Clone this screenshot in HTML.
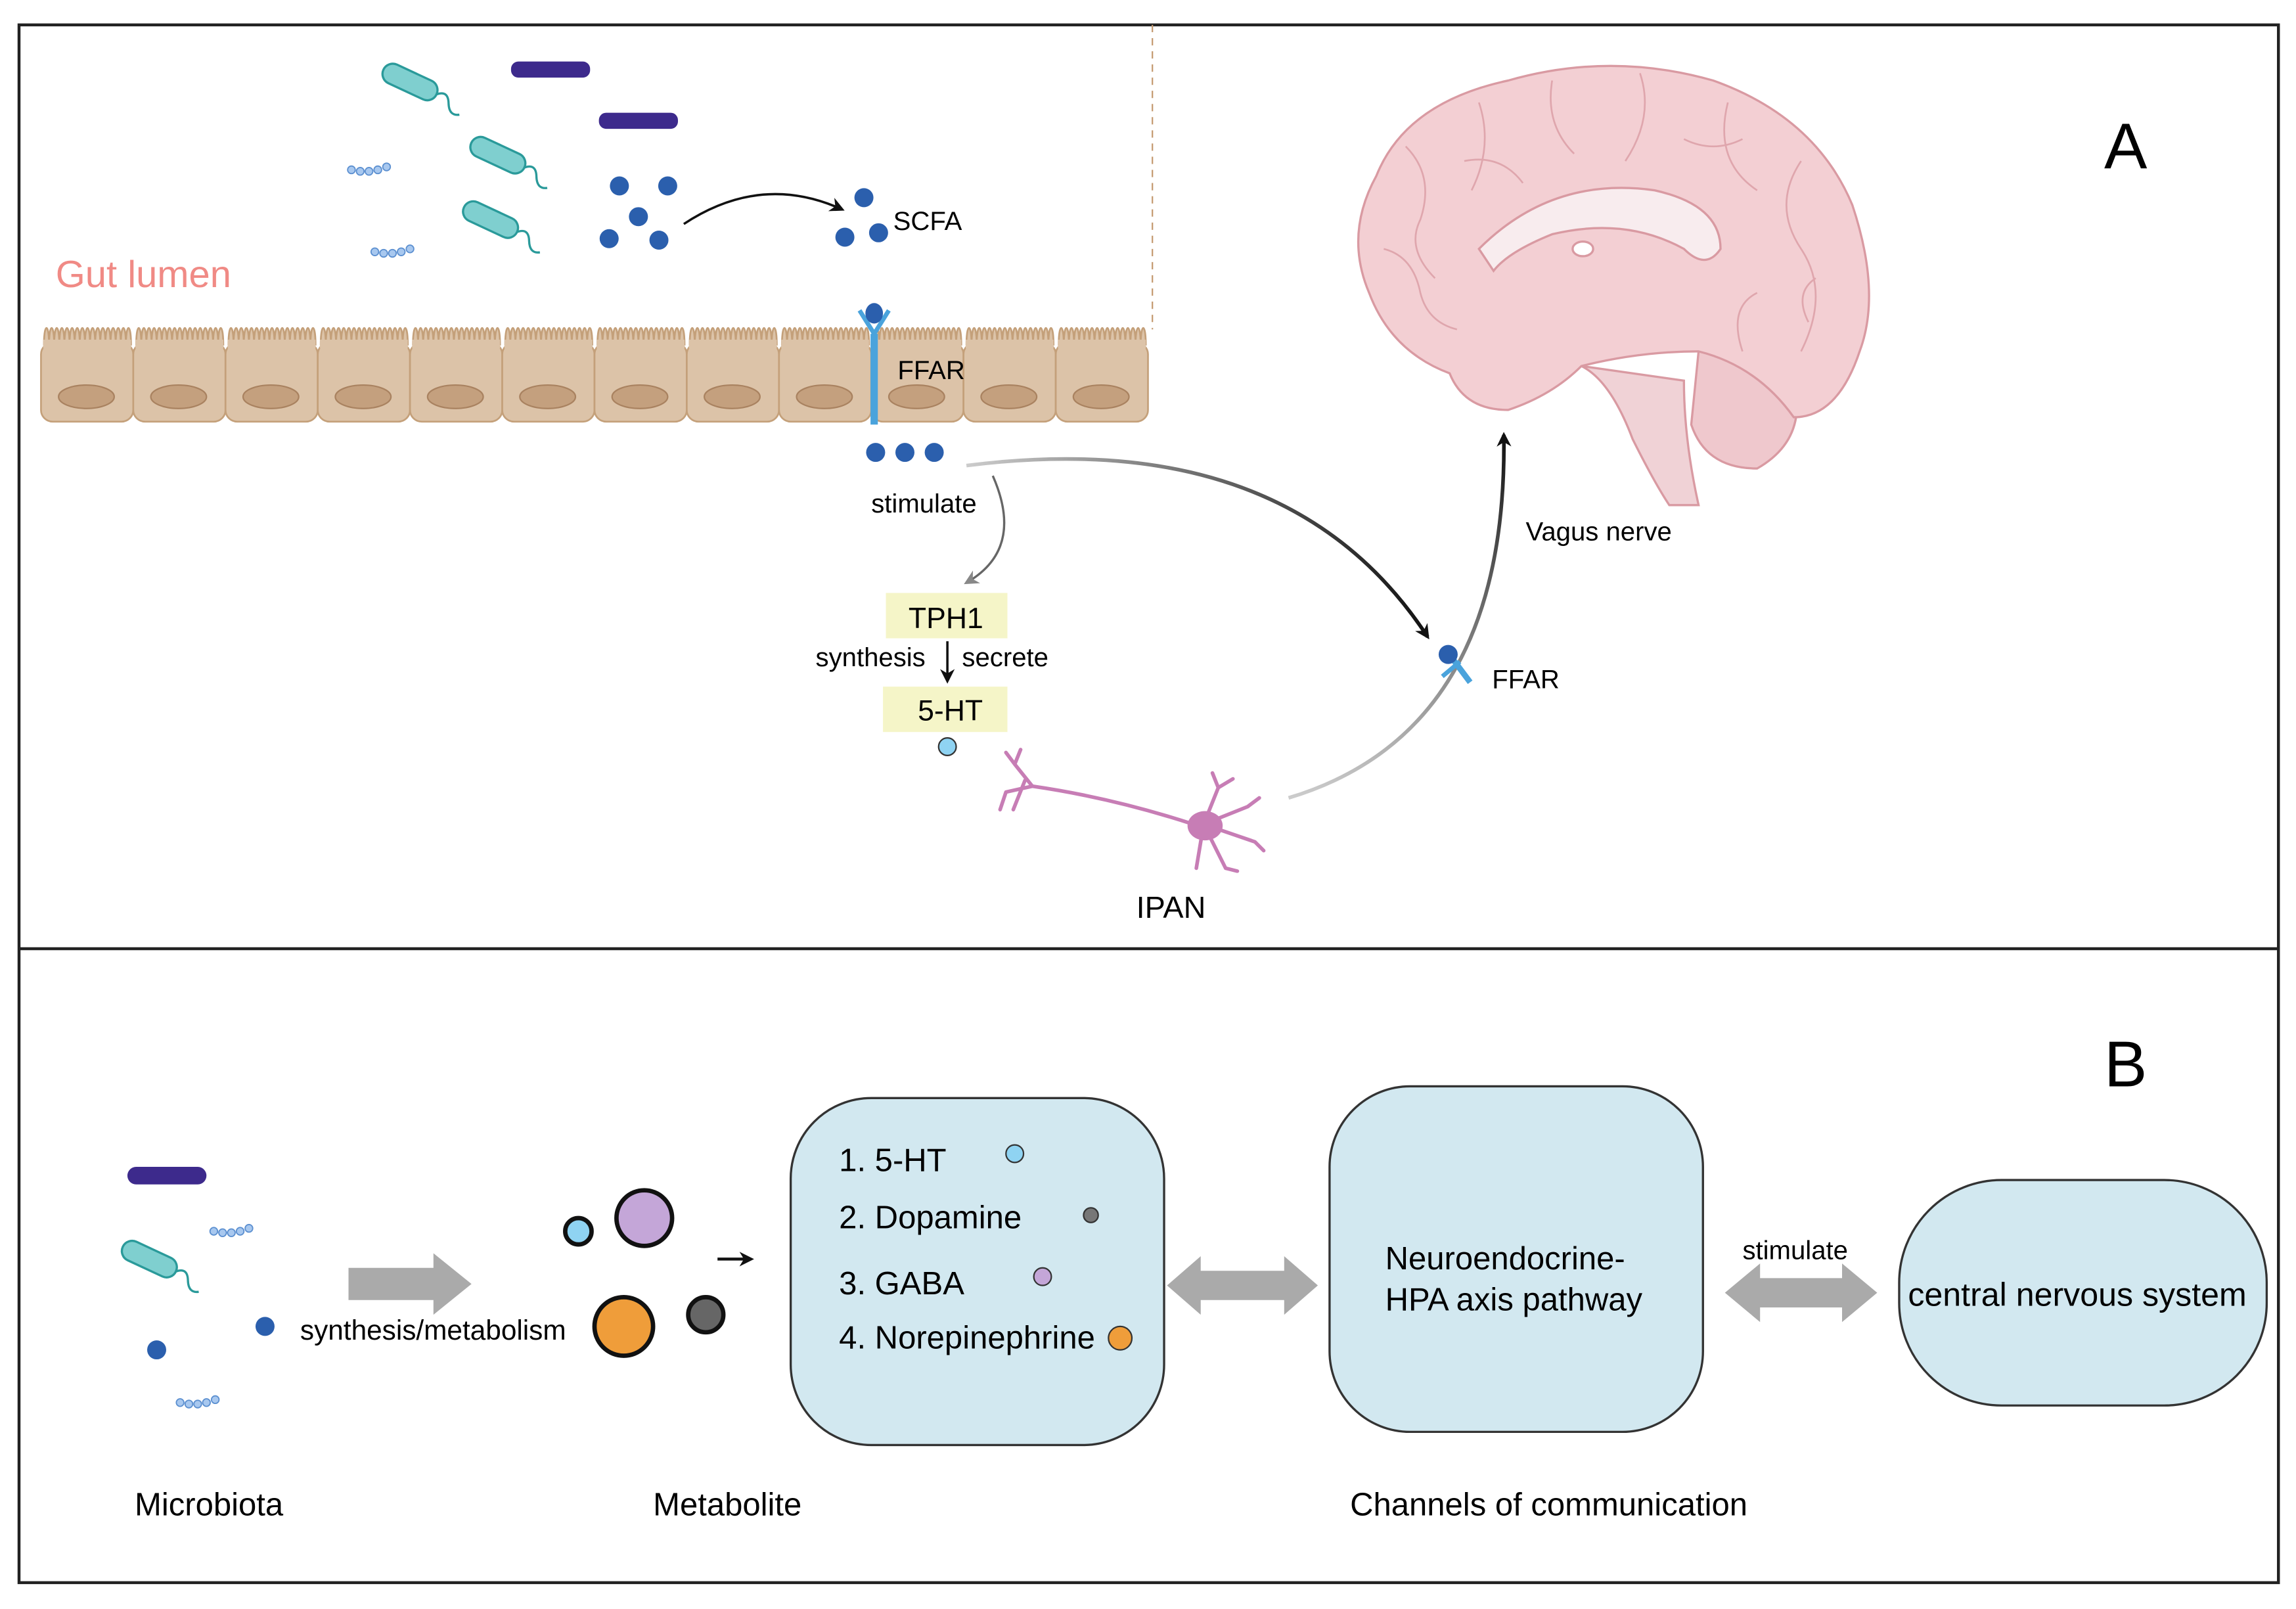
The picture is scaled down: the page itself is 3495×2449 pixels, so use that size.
<!DOCTYPE html>
<html><head><meta charset="utf-8"><style>
html,body{margin:0;padding:0;background:#fff}
svg{display:block}
text{font-family:"Liberation Sans",sans-serif}
</style></head><body>
<svg width="3495" height="2449" viewBox="0 0 1568 1099" preserveAspectRatio="none" xmlns="http://www.w3.org/2000/svg">
<defs>
<marker id="ah" markerWidth="10" markerHeight="10" refX="8" refY="5" orient="auto" markerUnits="userSpaceOnUse"><path d="M0,0 L10,5 L0,10 L3,5z" fill="#111"/></marker>
<marker id="ahg" markerWidth="10" markerHeight="10" refX="8" refY="5" orient="auto" markerUnits="userSpaceOnUse"><path d="M0,0 L10,5 L0,10 L3,5z" fill="#888"/></marker>
<linearGradient id="g1" x1="0" y1="0" x2="1" y2="0"><stop offset="0" stop-color="#ccc"/><stop offset="1" stop-color="#111"/></linearGradient>
<linearGradient id="g2" x1="0" y1="1" x2="0" y2="0"><stop offset="0" stop-color="#ccc"/><stop offset="1" stop-color="#111"/></linearGradient>
<g id="bac"><rect x="-20" y="-7" width="40" height="14" rx="7" fill="#7fcfcf" stroke="#2a9a9a" stroke-width="1.5"/><path d="M20,0 q6,-6 10,2 t10,4" fill="none" stroke="#2a9a9a" stroke-width="1.5"/></g>
<g id="chain" fill="#a8c8ef" stroke="#5b8fd0" stroke-width="0.8"><circle cx="0" cy="0" r="2.6"/><circle cx="6" cy="1" r="2.6"/><circle cx="12" cy="1" r="2.6"/><circle cx="18" cy="0" r="2.6"/><circle cx="24" cy="-2" r="2.6"/></g>
<g id="cell"><path d="M2,18 c0,-16 3.5,-16 3.5,0 c0,-16 3.5,-16 3.5,0 c0,-16 3.5,-16 3.5,0 c0,-16 3.5,-16 3.5,0 c0,-16 3.5,-16 3.5,0 c0,-16 3.5,-16 3.5,0 c0,-16 3.5,-16 3.5,0 c0,-16 3.5,-16 3.5,0 c0,-16 3.5,-16 3.5,0 c0,-16 3.5,-16 3.5,0 c0,-16 3.5,-16 3.5,0 c0,-16 3.5,-16 3.5,0 c0,-16 3.5,-16 3.5,0 c0,-16 3.5,-16 3.5,0 c0,-16 3.5,-16 3.5,0 c0,-16 3.5,-16 3.5,0 c0,-16 3.5,-16 3.5,0" fill="#dcc3a8" stroke="#c4a07a" stroke-width="1.2"/><rect x="0" y="16" width="63" height="54" rx="8" fill="#dcc3a8" stroke="#c4a07a" stroke-width="1.2"/><rect x="1.5" y="14" width="60" height="6" fill="#dcc3a8"/><ellipse cx="31" cy="53" rx="19" ry="8" fill="#c4a07e" stroke="#a98260" stroke-width="1"/></g>
</defs>
<rect x="0" y="0" width="1568" height="1099" fill="#fff"/>
<rect x="13" y="17" width="1543" height="1064" fill="none" stroke="#222" stroke-width="2"/>
<line x1="13" y1="648" x2="1556" y2="648" stroke="#222" stroke-width="2"/>
<line x1="787" y1="17" x2="787" y2="225" stroke="#c49a70" stroke-width="1" stroke-dasharray="5,4"/>

<use href="#bac" transform="translate(280,56) rotate(25)"/>
<use href="#bac" transform="translate(340,106) rotate(25)"/>
<use href="#bac" transform="translate(335,150) rotate(25)"/>
<rect x="349" y="42" width="54" height="11" rx="5" fill="#3d2a8c"/>
<rect x="409" y="77" width="54" height="11" rx="5" fill="#3d2a8c"/>
<use href="#chain" transform="translate(240,116)"/>
<use href="#chain" transform="translate(256,172)"/>
<g fill="#2b5fad"><circle cx="423" cy="127" r="6.5"/><circle cx="456" cy="127" r="6.5"/><circle cx="436" cy="148" r="6.5"/><circle cx="416" cy="163" r="6.5"/><circle cx="450" cy="164" r="6.5"/>
<circle cx="590" cy="135" r="6.5"/><circle cx="577" cy="162" r="6.5"/><circle cx="600" cy="159" r="6.5"/></g>
<path d="M467,153 Q520,118 575,143" fill="none" stroke="#111" stroke-width="1.6" marker-end="url(#ah)"/>
<text x="610" y="157" font-size="18">SCFA</text>
<text x="38" y="196" font-size="26" fill="#f08a85">Gut lumen</text>

<g transform="translate(28,218)">
<use href="#cell" x="0"/><use href="#cell" x="63"/><use href="#cell" x="126"/><use href="#cell" x="189"/><use href="#cell" x="252"/><use href="#cell" x="315"/><use href="#cell" x="378"/><use href="#cell" x="441"/><use href="#cell" x="504"/><use href="#cell" x="567"/><use href="#cell" x="630"/><use href="#cell" x="693"/>
</g>
<line x1="597" y1="228" x2="597" y2="290" stroke="#4aa3dc" stroke-width="5"/>
<path d="M587,212 L597,228 L607,212" fill="none" stroke="#4aa3dc" stroke-width="3"/>
<ellipse cx="597" cy="214" rx="6" ry="7" fill="#2b5fad"/>
<text x="613" y="259" font-size="18">FFAR</text>
<g fill="#2b5fad"><circle cx="598" cy="309" r="6.5"/><circle cx="618" cy="309" r="6.5"/><circle cx="638" cy="309" r="6.5"/></g>

<path d="M660,318 Q880,290 975,435" fill="none" stroke="url(#g1)" stroke-width="2.5" marker-end="url(#ah)"/>
<text x="595" y="350" font-size="18">stimulate</text>
<path d="M678,325 Q700,375 660,398" fill="none" stroke="#666" stroke-width="1.5" marker-end="url(#ahg)"/>
<rect x="605" y="405" width="83" height="31" fill="#f5f5c8"/>
<text x="646" y="429" font-size="20" text-anchor="middle">TPH1</text>
<line x1="647" y1="438" x2="647" y2="465" stroke="#111" stroke-width="1.6" marker-end="url(#ah)"/>
<text x="557" y="455" font-size="18">synthesis</text>
<text x="657" y="455" font-size="18">secrete</text>
<rect x="603" y="469" width="85" height="31" fill="#f5f5c8"/>
<text x="649" y="492" font-size="20" text-anchor="middle">5-HT</text>
<circle cx="647" cy="510" r="6" fill="#8fd3f2" stroke="#333" stroke-width="1"/>

<g stroke="#c77db5" fill="none" stroke-width="2.5" stroke-linecap="round">
<path d="M705,537 Q760,545 815,563"/>
<path d="M705,537 l-12,-15 M705,537 l-18,4 M693,522 l-6,-8 M693,522 l4,-10 M687,541 l-4,12 M700,533 l-8,20"/>
<path d="M822,563 l10,-25 M822,563 l30,-12 M822,563 l35,12 M822,563 l15,30 M822,563 l-5,30 M832,538 l-4,-10 M832,538 l10,-6 M852,551 l8,-6 M857,575 l6,6 M837,593 l8,2"/>
</g>
<ellipse cx="823" cy="564" rx="12" ry="10" fill="#c77db5"/>
<text x="776" y="627" font-size="21">IPAN</text>

<path d="M880,545 Q1030,500 1027,297" fill="none" stroke="url(#g2)" stroke-width="2.5" marker-end="url(#ah)"/>
<text x="1042" y="369" font-size="18">Vagus nerve</text>
<line x1="986" y1="442" x2="1004" y2="466" stroke="#4aa3dc" stroke-width="4"/>
<line x1="985" y1="462" x2="997" y2="452" stroke="#4aa3dc" stroke-width="3"/>
<circle cx="989" cy="447" r="6.5" fill="#2b5fad"/>
<text x="1019" y="470" font-size="18">FFAR</text>

<g stroke="#d99aa2" stroke-width="1.5">
<path d="M1080,250 Q1100,260 1115,300 Q1130,330 1140,345 L1160,345 Q1150,300 1150,260 Z" fill="#f0d2d6"/>
<path d="M1160,240 Q1200,230 1225,260 Q1235,300 1200,320 Q1165,320 1155,290 Z" fill="#efc8cd"/>
<path d="M940,120 Q960,70 1030,55 Q1100,35 1170,55 Q1240,80 1265,140 Q1285,200 1270,240 Q1255,285 1225,285 Q1200,250 1160,240 Q1120,240 1080,250 Q1060,270 1030,280 Q1000,280 990,255 Q950,240 935,200 Q918,160 940,120 Z" fill="#f3cfd3"/>
<path d="M1010,170 Q1060,120 1130,130 Q1175,140 1175,170 Q1165,185 1150,170 Q1110,148 1060,160 Q1030,172 1020,185 Z" fill="#f8ecee"/>
<ellipse cx="1081" cy="170" rx="7" ry="5" fill="#fff"/>
</g>
<g fill="none" stroke="#dfa6ad" stroke-width="1.2">
<path d="M960,100 q20,20 10,50 q-10,20 10,40"/><path d="M1010,70 q10,30 -5,60"/><path d="M1060,55 q-5,30 15,50"/><path d="M1120,50 q10,30 -10,60"/><path d="M1180,70 q-10,40 20,60"/><path d="M1230,110 q-20,30 0,60 q20,30 0,70"/><path d="M1200,200 q-20,10 -10,40"/>
<path d="M945,170 q20,5 25,30 q5,20 25,25"/><path d="M1000,110 q25,-5 40,15"/><path d="M1150,95 q20,10 40,0"/><path d="M1240,190 q-15,10 -5,30"/>
</g>
<text x="1437" y="115" font-size="44">A</text>

<text x="1437" y="742" font-size="44">B</text>
<rect x="87" y="797" width="54" height="12" rx="6" fill="#3d2a8c"/>
<use href="#bac" transform="translate(102,860) rotate(25)"/>
<use href="#chain" transform="translate(146,841)"/>
<use href="#chain" transform="translate(123,958)"/>
<circle cx="107" cy="922" r="6.5" fill="#2b5fad"/>
<circle cx="181" cy="906" r="6.5" fill="#2b5fad"/>
<path d="M238,866 L296,866 L296,856 L322,877 L296,898 L296,888 L238,888 Z" fill="#aaa"/>
<text x="205" y="915" font-size="19">synthesis/metabolism</text>
<circle cx="395" cy="841" r="9" fill="#8fd3f2" stroke="#111" stroke-width="3"/>
<circle cx="440" cy="832" r="19" fill="#c4a6d8" stroke="#111" stroke-width="3"/>
<circle cx="426" cy="906" r="20" fill="#ef9d3a" stroke="#111" stroke-width="3"/>
<circle cx="482" cy="898" r="12" fill="#666" stroke="#111" stroke-width="3"/>
<line x1="490" y1="860" x2="513" y2="860" stroke="#111" stroke-width="2" marker-end="url(#ah)"/>

<rect x="540" y="750" width="255" height="237" rx="55" fill="#d2e8f0" stroke="#333" stroke-width="1.5"/>
<text x="573" y="800" font-size="22">1. 5-HT</text>
<text x="573" y="839" font-size="22">2. Dopamine</text>
<text x="573" y="884" font-size="22">3. GABA</text>
<text x="573" y="921" font-size="22">4. Norepinephrine</text>
<circle cx="693" cy="788" r="6" fill="#8fd3f2" stroke="#333"/>
<circle cx="745" cy="830" r="5" fill="#777" stroke="#333"/>
<circle cx="712" cy="872" r="6" fill="#c4a6d8" stroke="#333"/>
<circle cx="765" cy="914" r="8" fill="#ef9d3a" stroke="#333"/>

<path d="M797,878 L820,858 L820,868 L877,868 L877,858 L900,878 L877,898 L877,888 L820,888 L820,898 Z" fill="#aaa"/>
<rect x="908" y="742" width="255" height="236" rx="55" fill="#d2e8f0" stroke="#333" stroke-width="1.5"/>
<text x="946" y="867" font-size="22">Neuroendocrine-</text>
<text x="946" y="895" font-size="22">HPA axis pathway</text>
<text x="1190" y="860" font-size="18">stimulate</text>
<path d="M1178,883 L1202,863 L1202,873 L1258,873 L1258,863 L1282,883 L1258,903 L1258,893 L1202,893 L1202,903 Z" fill="#aaa"/>
<rect x="1297" y="806" width="251" height="154" rx="70" fill="#d2e8f0" stroke="#333" stroke-width="1.5"/>
<text x="1303" y="892" font-size="22.5">central nervous system</text>

<text x="92" y="1035" font-size="22">Microbiota</text>
<text x="446" y="1035" font-size="22">Metabolite</text>
<text x="922" y="1035" font-size="22">Channels of communication</text>
</svg>
</body></html>
